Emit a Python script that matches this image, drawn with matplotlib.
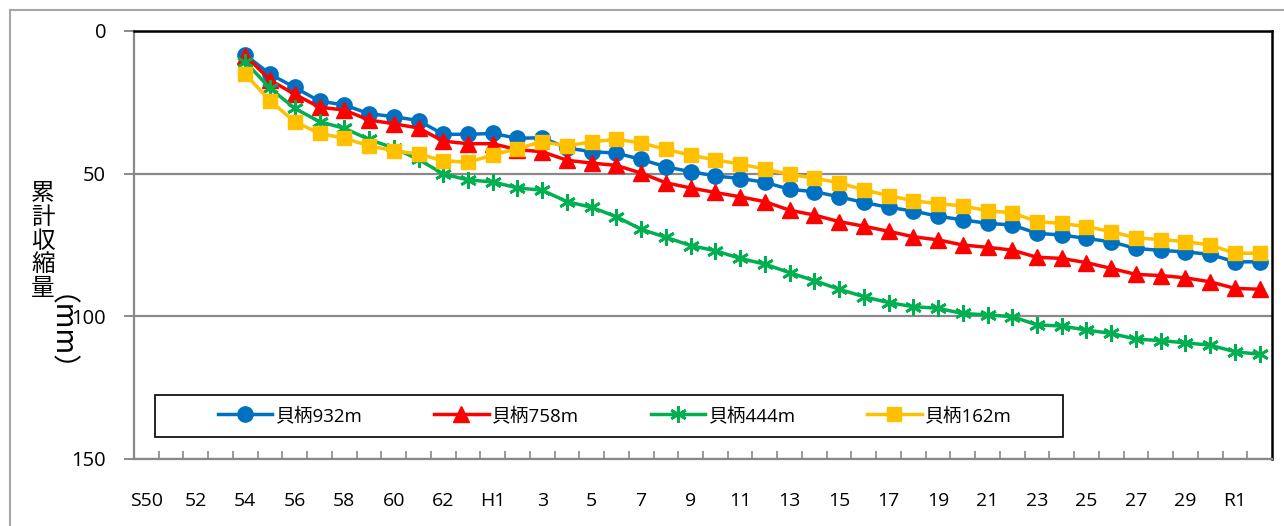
import matplotlib
matplotlib.use('Agg')
import matplotlib.pyplot as plt
from matplotlib.patches import Rectangle
from matplotlib.lines import Line2D
import numpy as np

plt.rcParams['font.family'] = ['Open Sans', 'Noto Sans CJK JP', 'DejaVu Sans']

# categories: S50 .. S63, H1 .. H30, R1, R2
categories = (['S50'] + [str(y) for y in range(51, 64)] + ['H1']
              + [str(y) for y in range(2, 31)] + ['R1', 'R2'])
start = categories.index('54')

names = ['貝柄932m', '貝柄758m', '貝柄444m', '貝柄162m']

v932 = [8.4, 15.1, 19.8, 24.6, 25.9, 29.0, 30.0, 31.4, 36.2, 36.2,
        35.9, 37.6, 37.4, 41.0, 42.3, 42.8, 45.0, 47.6, 49.3, 50.8,
        51.7, 53.0, 55.5, 56.3, 58.1, 60.1, 61.8, 63.1, 64.9, 66.2,
        67.4, 68.0, 70.9, 71.5, 72.7, 73.9, 76.2, 76.9, 77.4, 78.3,
        80.9, 80.9]
v758 = [8.6, 17.2, 22.2, 26.7, 27.7, 31.2, 32.5, 34.0, 38.6, 39.5,
        39.5, 41.6, 42.3, 45.3, 46.3, 47.1, 49.8, 53.2, 55.0, 56.6,
        58.1, 59.8, 62.8, 64.5, 66.8, 68.4, 70.2, 72.1, 73.2, 75.0,
        75.8, 76.8, 79.3, 79.7, 81.2, 83.2, 85.3, 85.7, 86.5, 87.9,
        90.2, 90.5]
v444 = [10.8, 20.1, 27.1, 31.8, 34.1, 38.0, 41.0, 45.0, 50.1, 52.2,
        52.9, 55.0, 55.8, 59.8, 61.8, 65.1, 69.5, 72.3, 75.2, 77.0,
        79.7, 81.7, 84.7, 87.5, 90.5, 93.1, 95.2, 96.6, 97.2, 99.0,
        99.5, 100.1, 103.0, 103.4, 104.8, 106.0, 108.0, 108.5, 109.3, 110.1,
        112.4, 113.3]
v162 = [15.1, 24.5, 31.8, 35.9, 37.6, 40.2, 42.0, 43.1, 45.5, 46.0,
        43.5, 41.2, 38.8, 40.3, 38.8, 38.0, 39.2, 41.5, 43.5, 45.2,
        46.6, 48.4, 50.2, 51.6, 53.2, 55.7, 57.7, 59.5, 60.5, 61.3,
        63.0, 63.7, 66.8, 67.4, 68.6, 70.3, 72.5, 73.1, 73.8, 75.0,
        77.9, 77.9]

series = [v932, v758, v444, v162]
colors = ['#0070C0', '#FF0000', '#00B050', '#FFC000']
markers = ['o', '^', (6, 2, 0), 's']
msizes = [11, 11, 12, 10]

W, H = 1284, 526
fig = plt.figure(figsize=(W / 100, H / 100), dpi=100)
L, R, T, B = 134, 1272, 31, 459
ax = fig.add_axes([L / W, 1 - B / H, (R - L) / W, (B - T) / H])

x = np.arange(start, start + len(v932))
for vals, c, m, ms, nm in zip(series, colors, markers, msizes, names):
    ax.plot(x, vals, color=c, lw=2.5, marker=m, markersize=ms,
            markeredgewidth=2 if m == (6, 2, 0) else 1, markeredgecolor=c,
            label=nm, zorder=3)

gray = '#898989'
ax.set_ylim(150, 0)
ax.set_xlim(-0.5, len(categories) - 0.5)
ax.set_yticks([0, 50, 100, 150])
ax.yaxis.grid(True, color=gray, lw=1.6)
ax.set_axisbelow(True)

idx = np.arange(0, len(categories), 2)
ax.set_xticks(idx)
ax.set_xticklabels([categories[i] for i in idx], fontsize=14)
ax.set_xticks(np.arange(0.5, len(categories) - 0.5, 1), minor=True)
ax.tick_params(axis='x', which='major', length=0, pad=24)
ax.tick_params(axis='x', which='minor', direction='in', length=6,
               width=1.2, color=gray)
ax.tick_params(axis='y', direction='out', length=7, width=1.4,
               color=gray, labelsize=14.5, pad=13)

for s in ['left', 'bottom']:
    ax.spines[s].set_color(gray)
    ax.spines[s].set_linewidth(1.6)
for s in ['top', 'right']:
    ax.spines[s].set_color('black')
    ax.spines[s].set_linewidth(1.8)

# legend frame
aw, ah = R - L, B - T
ax.add_patch(Rectangle(((155 - L) / aw, (B - 437) / ah), (1063 - 155) / aw,
                       (437 - 395) / ah, transform=ax.transAxes,
                       fill=True, facecolor='white', edgecolor='black',
                       lw=1.2, zorder=4))
leg = ax.legend(loc='center left', ncol=4, frameon=False,
                bbox_to_anchor=((218 - L) / aw, (B - 416) / ah),
                borderpad=0, borderaxespad=0, fontsize=13.5,
                handlelength=2.9, handletextpad=0.2, columnspacing=3.8)
leg.set_zorder(5)

# y label: stacked kanji + rotated (mm)
fig.text(43 / W, 1 - 241 / H, '累\n計\n収\n縮\n量', ha='center', va='center',
         fontsize=17, linespacing=1.04, family=['Noto Sans CJK JP'])
fig.text(44 / W, 1 - 347 / H, '（mm）', ha='center', va='center',
         fontsize=20, rotation=270, family=['Noto Sans CJK JP'])

# outer chart border
fig.add_artist(Line2D([10 / W, 1], [1 - 10 / H, 1 - 10 / H], color='#A6A6A6', lw=1.5))
fig.add_artist(Line2D([10 / W, 10 / W], [0, 1 - 10 / H], color='#A6A6A6', lw=1.5))

fig.savefig('out.png', dpi=100)
